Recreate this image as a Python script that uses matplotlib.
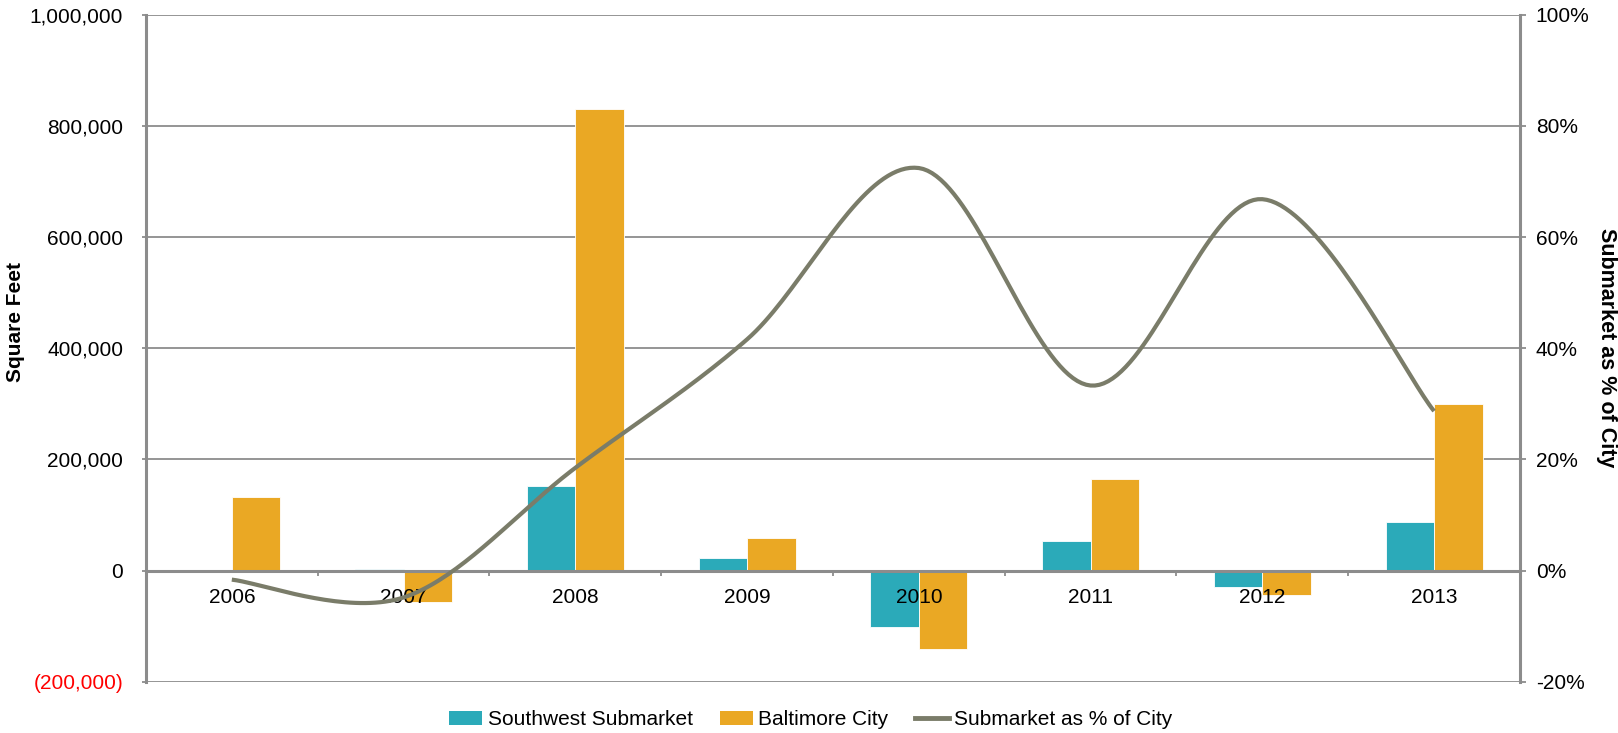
import numpy as np
import matplotlib
matplotlib.use("Agg")
import matplotlib.pyplot as plt
from matplotlib.patches import Patch
from matplotlib.lines import Line2D
from matplotlib.ticker import FixedLocator, FixedFormatter

plt.rcParams["font.family"] = ["Liberation Sans", "DejaVu Sans"]
plt.rcParams["axes.unicode_minus"] = False

years = ["2006", "2007", "2008", "2009", "2010", "2011", "2012", "2013"]
southwest = [-2000, 3000, 153000, 23000, -101000, 54000, -29000, 87000]
baltimore = [133000, -57000, 831000, 58000, -141000, 165000, -44000, 300000]
share_pct = [-1.6, -4.8, 18.5, 41.6, 72.4, 33.3, 66.8, 28.7]

left_ticks = [-200000, 0, 200000, 400000, 600000, 800000, 1000000]
left_labels = ["(200,000)", "0", "200,000", "400,000", "600,000", "800,000", "1,000,000"]
right_ticks = [-0.2, 0.0, 0.2, 0.4, 0.6, 0.8, 1.0]
right_labels = ["-20%", "0%", "20%", "40%", "60%", "80%", "100%"]

TEAL = "#2BAAB9"
ORANGE = "#EAA824"
LINE = "#7A7C69"
GRID = "#8C8C8C"
FS = 15


def smooth_curve(xs, ys, steps=40):
    """Catmull-Rom style Bezier smoothing through every point."""
    xs = np.asarray(xs, float)
    ys = np.asarray(ys, float)
    n = len(xs)
    px, py = [], []
    for i in range(n - 1):
        i0 = max(i - 1, 0)
        i3 = min(i + 2, n - 1)
        p0 = np.array([xs[i], ys[i]])
        p3 = np.array([xs[i + 1], ys[i + 1]])
        c1 = p0 + (p3 - np.array([xs[i0], ys[i0]])) / 6.0
        c2 = p3 - (np.array([xs[i3], ys[i3]]) - p0) / 6.0
        t = np.linspace(0, 1, steps)[:, None]
        seg = ((1 - t) ** 3) * p0 + 3 * ((1 - t) ** 2) * t * c1 + 3 * (1 - t) * t ** 2 * c2 + t ** 3 * p3
        if i > 0:
            seg = seg[1:]
        px.extend(seg[:, 0])
        py.extend(seg[:, 1])
    return np.array(px), np.array(py)


fig = plt.figure(figsize=(16.18, 7.33), dpi=100)
ax = fig.add_axes([0.0902, 0.0696, 0.9394 - 0.0902, 0.9802 - 0.0696])

x = np.arange(len(years))
w = 0.282
ax.bar(x - w / 2, southwest, width=w, color=TEAL, edgecolor="white", linewidth=0.6, zorder=2)
ax.bar(x + w / 2, baltimore, width=w, color=ORANGE, edgecolor="white", linewidth=0.6, zorder=2)

ax.set_xlim(-0.5, len(years) - 0.5)
ax.set_ylim(-200000, 1000000)

ax.yaxis.set_major_locator(FixedLocator(left_ticks))
ax.yaxis.set_major_formatter(FixedFormatter(left_labels))
ax.grid(axis="y", color=GRID, linewidth=1.3)
ax.set_axisbelow(True)
ax.tick_params(axis="y", which="major", length=3, width=1.3, color=GRID, pad=13.5, labelsize=FS)
for lbl, val in zip(ax.get_yticklabels(), left_ticks):
    lbl.set_color("#FF0000" if val < 0 else "black")

# category axis sits on the zero line, its year labels drawn over the bars
ax.spines["bottom"].set_position(("data", 0))
ax.spines["bottom"].set_color(GRID)
ax.spines["bottom"].set_linewidth(2.2)
ax.spines["bottom"].set_zorder(3)
ax.spines["top"].set_visible(False)
ax.spines["right"].set_visible(False)
ax.spines["left"].set_color(GRID)
ax.spines["left"].set_linewidth(2.2)
ax.set_xticks(x)
ax.set_xticklabels(years)
ax.set_xticks(np.arange(len(years) + 1) - 0.5, minor=True)
ax.tick_params(axis="x", which="major", length=0, pad=12.5, labelsize=FS)
ax.tick_params(axis="x", which="minor", length=3.5, width=1.3, color=GRID)
ax.xaxis.set_zorder(5)

fig.text(15.5 / 1618, 1 - 321.6 / 733, "Square Feet", rotation=90, ha="center", va="center",
         fontsize=FS, fontweight="bold")

ax2 = ax.twinx()
ax2.set_ylim(-0.2, 1.0)
ax2.yaxis.set_major_locator(FixedLocator(right_ticks))
ax2.yaxis.set_major_formatter(FixedFormatter(right_labels))
ax2.tick_params(axis="y", length=4.3, width=1.3, color=GRID, pad=7, labelsize=FS)
for s in ["top", "bottom", "left"]:
    ax2.spines[s].set_visible(False)
ax2.spines["right"].set_color(GRID)
ax2.spines["right"].set_linewidth(2.2)

sx, sy = smooth_curve(x, np.array(share_pct) / 100.0)
ax2.plot(sx, sy, color=LINE, linewidth=3.0, solid_capstyle="butt", zorder=4)

fig.text(1607 / 1618, 1 - 348 / 733, "Submarket as % of City", rotation=-90, ha="center", va="center",
         fontsize=15.5, fontweight="bold")

handles = [
    Patch(facecolor=TEAL, edgecolor="none"),
    Patch(facecolor=ORANGE, edgecolor="none"),
    Line2D([0], [0], color=LINE, linewidth=3.5),
]
labels = ["Southwest Submarket", "Baltimore City", "Submarket as % of City"]
fig.legend(handles, labels, loc="center", bbox_to_anchor=(0.501, 0.018), ncol=3,
           frameon=False, fontsize=FS, handlelength=1.6, handleheight=0.6,
           handletextpad=0.25, columnspacing=1.3)

fig.savefig("out.png", dpi=100)
